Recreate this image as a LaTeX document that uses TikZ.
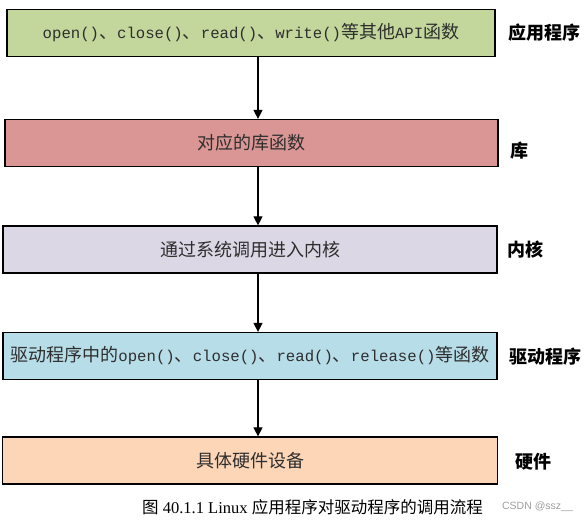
\documentclass[tikz,border=0pt]{standalone}
\usepackage{fontspec}
\setmainfont{Liberation Serif}
\newfontfamily\cjk{Noto Sans CJK SC}
\newfontfamily\mono[Scale=0.87]{Liberation Mono}
\newfontfamily\wmfont{Liberation Sans}
\usetikzlibrary{arrows.meta}
\definecolor{appgreen}{HTML}{C3D69B}
\definecolor{libred}{HTML}{D99694}
\definecolor{kernlilac}{HTML}{DCD7E5}
\definecolor{drvblue}{HTML}{B7DDE8}
\definecolor{hwpeach}{HTML}{FCD6B6}
\definecolor{boxtext}{HTML}{2E2E2E}

\begin{document}
\begin{tikzpicture}[x=1pt,y=-1pt,
  box/.style={draw, line width=1.2pt, inner sep=0pt, minimum height=47pt,
    text=boxtext, font=\cjk\fontsize{18}{20}\selectfont},
  layer/.style={inner sep=0pt, font=\cjk\bfseries\fontsize{18}{20}\selectfont}]
\useasboundingbox (0,0) rectangle (587,521);
\node[box, fill=appgreen, minimum width=488pt] (1) at (251,33)
  {{\mono open()}、{\mono close()}、{\mono read()}、{\mono write()}等其他{\mono API}函数};
\node[box, fill=libred, minimum width=493pt] (2) at (251.5,143) {对应的库函数};
\node[box, fill=kernlilac, minimum width=494pt] (3) at (250,249.5) {通过系统调用进入内核};
\node[box, fill=drvblue, minimum width=494pt] (4) at (250,356)
  {驱动程序中的{\mono open()}、{\mono close()}、{\mono read()}、{\mono release()}等函数};
\node[box, fill=hwpeach, minimum width=495pt] (5) at (250,460.5) {具体硬件设备};
% layer names on the right
\node[layer] (6) at (544.5,33) {应用程序};
\node[layer] (7) at (519.5,150.5) {库};
\node[layer] (8) at (525.5,249.5) {内核};
\node[layer] (9) at (545,357) {驱动程序};
\node[layer] (10) at (533,462) {硬件};
\node[inner sep=0pt, font=\fontsize{16.5}{18}\selectfont] (11) at (312.5,507)
  {{\cjk 图} 40.1.1 Linux {\cjk 应用程序对驱动程序的调用流程}};
\node[inner sep=0pt, text=black!38, font=\wmfont\fontsize{10.5}{12}\selectfont] (12) at (537.5,507) {CSDN @ssz\_\_};
\coordinate (axis) at (258,0);
\path[draw,line width=1.1pt,-{Triangle[width=9pt,length=9pt]}] (1.south -| axis) -- (2.north -| axis);
\path[draw,line width=1.1pt,-{Triangle[width=9pt,length=9pt]}] (2.south -| axis) -- (3.north -| axis);
\path[draw,line width=1.1pt,-{Triangle[width=9pt,length=9pt]}] (3.south -| axis) -- (4.north -| axis);
\path[draw,line width=1.1pt,-{Triangle[width=9pt,length=9pt]}] (4.south -| axis) -- (5.north -| axis);
\end{tikzpicture}
\end{document}
